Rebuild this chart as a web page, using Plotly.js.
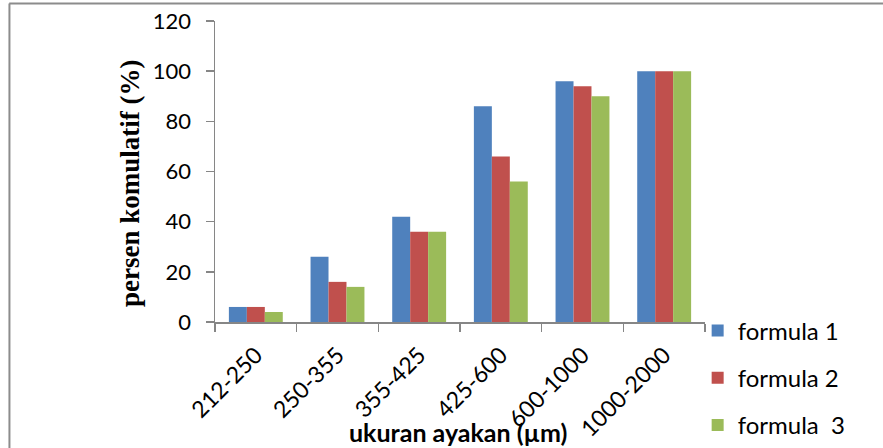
<!DOCTYPE html>
<html>
<head>
<meta charset="utf-8">
<script src="https://cdn.plot.ly/plotly-3.0.1.min.js"></script>
<style>
  html, body { margin: 0; padding: 0; background: #fff; }
  #chart { width: 883px; height: 448px; }
</style>
</head>
<body>
<div id="chart"></div>
<script>
// Sieve fractions (µm) and cumulative percentage per formula
const sieveSizes = ["212-250", "250-355", "355-425", "425-600", "600-1000", "1000-2000"];
const formula1 = [6, 26, 42, 86, 96, 100];
const formula2 = [6, 16, 36, 66, 94, 100];
const formula3 = [4, 14, 36, 56, 90, 100];
const seriesNames = ["formula 1", "formula 2", "formula  3"];
const seriesColors = ["#4F81BD", "#C0504D", "#9BBB59"];
const yTicks = [0, 20, 40, 60, 80, 100, 120];
const xTitle = "ukuran ayakan (µm)";
const yTitle = "persen komulatif (%)";

const bodyFont = "Lato, 'Open Sans', sans-serif";
const serifFont = "'Liberation Serif', 'Times New Roman', serif";
const axisGrey = "#868686";

const traces = [formula1, formula2, formula3].map((vals, i) => ({
  type: "bar",
  x: sieveSizes,
  y: vals,
  name: seriesNames[i],
  legendgroup: "g" + i,
  marker: { color: seriesColors[i], line: { width: 0 } },
  hoverinfo: "x+y+name"
}));

const layout = {
  width: 883,
  height: 448,
  margin: { l: 215, r: 178, t: 21, b: 126, autoexpand: false },
  paper_bgcolor: "#ffffff",
  plot_bgcolor: "#ffffff",
  barmode: "group",
  bargap: 0.34,
  bargroupgap: 0,
  showlegend: true,
  legend: {
    x: 0.985, xanchor: "left",
    y: 0.045, yanchor: "top",
    traceorder: "grouped",
    tracegroupgap: 13,
    itemwidth: 30,
    font: { family: bodyFont, size: 24, color: "#000" },
    bgcolor: "rgba(0,0,0,0)"
  },
  xaxis: {
    type: "category",
    tickangle: -45,
    tickson: "boundaries",
    ticks: "outside",
    ticklen: 8,
    tickwidth: 1.5,
    tickcolor: axisGrey,
    showline: true,
    linecolor: axisGrey,
    linewidth: 1.5,
    showgrid: false,
    zeroline: false,
    ticklabelstandoff: 9,
    tickfont: { family: bodyFont, size: 23, color: "#000" },
    automargin: false
  },
  yaxis: {
    range: [0, 120],
    tickvals: yTicks,
    ticks: "outside",
    ticklen: 8,
    tickwidth: 1.5,
    tickcolor: axisGrey,
    showline: true,
    linecolor: axisGrey,
    linewidth: 1.5,
    showgrid: false,
    zeroline: false,
    ticklabelstandoff: 10,
    tickfont: { family: bodyFont, size: 22, color: "#000" },
    automargin: false
  },
  annotations: [
    { text: "<b>" + yTitle + "</b>", xref: "paper", yref: "paper",
      x: -0.1735, y: 0.462, xanchor: "center", yanchor: "middle",
      textangle: -90, showarrow: false,
      font: { family: serifFont, size: 27, color: "#000" } },
    { text: "<b>" + xTitle + "</b>", xref: "paper", yref: "paper",
      x: 0.496, y: -0.365, xanchor: "center", yanchor: "middle",
      showarrow: false,
      font: { family: bodyFont, size: 25, color: "#000" } }
  ],
  shapes: [
    // frame around the figure
    { type: "line", xref: "paper", yref: "paper",
      x0: -0.42, x1: 1.5, y0: 1.058, y1: 1.058,
      line: { color: "#8c8c8c", width: 2 } },
    { type: "line", xref: "paper", yref: "paper",
      x0: -0.4195, x1: -0.4195, y0: 1.058, y1: -0.5,
      line: { color: "#8c8c8c", width: 2 } }
  ]
};

Plotly.newPlot("chart", traces, layout, { displayModeBar: false, staticPlot: true });
</script>
</body>
</html>
